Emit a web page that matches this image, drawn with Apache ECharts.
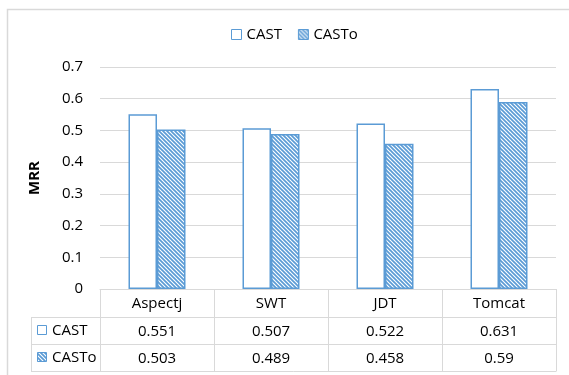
<!DOCTYPE html>
<html>
<head>
<meta charset="utf-8">
<script src="https://cdn.jsdelivr.net/npm/echarts@6/dist/echarts.min.js"></script>
<style>
html,body{margin:0;padding:0;background:#fff;}
#c{width:569px;height:375px;}
</style>
</head>
<body>
<div id="c"></div>
<script>
const categories = ['Aspectj', 'SWT', 'JDT', 'Tomcat'];
const seriesNames = ['CAST', 'CASTo'];
const castValues = [0.551, 0.507, 0.522, 0.631];
const castoValues = [0.503, 0.489, 0.458, 0.59];
const yMin = 0, yMax = 0.7, yStep = 0.1;

const BLUE = '#5b9bd5';
const GRID_C = '#d9d9d9';
const FONT = 'Open Sans';
const TXT = '#000000';

function makePattern() {
  const s = 4;
  const cv = document.createElement('canvas');
  cv.width = s; cv.height = s;
  const ctx = cv.getContext('2d');
  ctx.fillStyle = '#ffffff';
  ctx.fillRect(0, 0, s, s);
  ctx.strokeStyle = BLUE;
  ctx.lineWidth = 1.7;
  for (let c = -s; c <= s; c += s) {
    ctx.beginPath();
    ctx.moveTo(c - 1, -1);
    ctx.lineTo(c + s + 1, s + 1);
    ctx.stroke();
  }
  return cv;
}
const pattern = { image: makePattern(), repeat: 'repeat' };

const chart = echarts.init(document.getElementById('c'), null, { renderer: 'canvas' });

function rowAxis(data, offset, showLine) {
  return {
    type: 'category', gridIndex: 0, position: 'bottom', offset: offset,
    data: data,
    axisLine: { show: showLine, lineStyle: { color: GRID_C, width: 1 } },
    axisTick: { show: true, length: offset === 0 ? 28 : 27, lineStyle: { color: GRID_C, width: 1 } },
    axisLabel: { margin: 7, fontFamily: FONT, fontSize: 15, color: TXT, interval: 0 },
    splitLine: { show: false }
  };
}

const option = {
  animation: false,
  backgroundColor: '#fff',
  textStyle: { fontFamily: FONT },
  legend: {
    left: 226, top: 22,
    itemWidth: 10, itemHeight: 10, itemGap: 16,
    icon: 'rect',
    itemStyle: { borderWidth: 1, borderColor: BLUE },
    textStyle: { fontFamily: FONT, fontSize: 15, color: TXT },
    data: seriesNames
  },
  grid: { left: 100, right: 13, top: 67, bottom: 86, containLabel: false },
  xAxis: [
    rowAxis(categories, 0, true),
    rowAxis(castValues.map(String), 28, true),
    rowAxis(castoValues.map(String), 55, true)
  ],
  yAxis: {
    type: 'value', min: yMin, max: yMax, interval: yStep,
    name: 'MRR', nameLocation: 'middle', nameRotate: 90, nameGap: 58,
    nameTextStyle: { fontFamily: FONT, fontSize: 15, fontWeight: 'bold', color: TXT },
    axisLine: { show: false }, axisTick: { show: false },
    axisLabel: { margin: 17, fontFamily: FONT, fontSize: 15, color: TXT,
      formatter: v => (Math.round(v * 10) / 10).toString() },
    splitLine: { lineStyle: { color: GRID_C, width: 1 } }
  },
  series: [
    {
      name: seriesNames[0], type: 'bar', xAxisIndex: 0, data: castValues,
      barGap: '0%', barCategoryGap: '50%',
      itemStyle: { color: '#ffffff', borderColor: BLUE, borderWidth: 1.5 },
      emphasis: { disabled: true }
    },
    {
      name: seriesNames[1], type: 'bar', xAxisIndex: 0, data: castoValues,
      barGap: '0%', barCategoryGap: '50%',
      itemStyle: { color: pattern, borderColor: BLUE, borderWidth: 1.5 },
      emphasis: { disabled: true }
    }
  ],
  graphic: [
    { type: 'rect', silent: true, z: -10, shape: { x: 7.5, y: 9.5, width: 600, height: 400 },
      style: { fill: 'none', stroke: GRID_C, lineWidth: 1.5 } },
    { type: 'line', silent: true, shape: { x1: 31, y1: 317.5, x2: 100, y2: 317.5 }, style: { stroke: GRID_C, lineWidth: 1 } },
    { type: 'line', silent: true, shape: { x1: 31, y1: 344.5, x2: 100, y2: 344.5 }, style: { stroke: GRID_C, lineWidth: 1 } },
    { type: 'line', silent: true, shape: { x1: 31, y1: 371.5, x2: 556.5, y2: 371.5 }, style: { stroke: GRID_C, lineWidth: 1 } },
    { type: 'line', silent: true, shape: { x1: 31.5, y1: 317, x2: 31.5, y2: 371.5 }, style: { stroke: GRID_C, lineWidth: 1 } },
    { type: 'rect', silent: true, shape: { x: 37.5, y: 325.5, width: 9, height: 9 },
      style: { fill: '#fff', stroke: BLUE, lineWidth: 1 } },
    { type: 'rect', silent: true, shape: { x: 37.5, y: 352.5, width: 9, height: 9 },
      style: { fill: pattern, stroke: BLUE, lineWidth: 1 } },
    { type: 'text', silent: true, x: 52, y: 330.5,
      style: { text: seriesNames[0], font: '15px "Open Sans"', fill: TXT, verticalAlign: 'middle' } },
    { type: 'text', silent: true, x: 52, y: 357.5,
      style: { text: seriesNames[1], font: '15px "Open Sans"', fill: TXT, verticalAlign: 'middle' } }
  ]
};
chart.setOption(option);
</script>
</body>
</html>
